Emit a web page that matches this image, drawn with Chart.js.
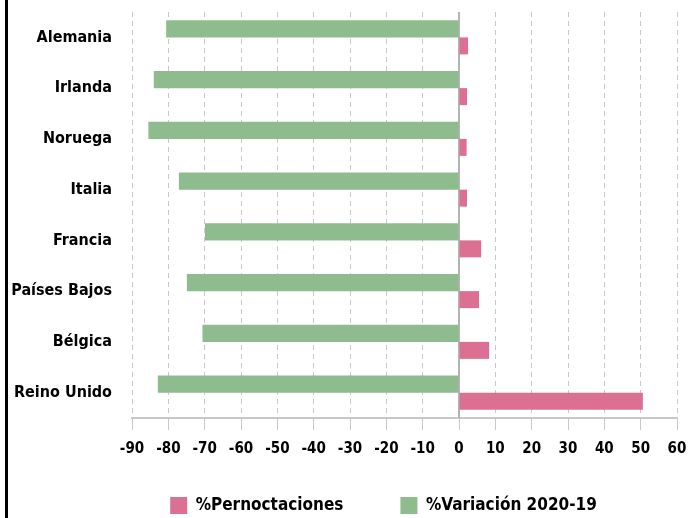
<!DOCTYPE html>
<html>
<head>
<meta charset="utf-8">
<script src="https://cdn.jsdelivr.net/npm/chart.js@4"></script>
<style>
  html, body { margin: 0; padding: 0; background: #fff; }
  #wrap { position: relative; width: 690px; height: 518px; }
  #frame { position: absolute; left: 5px; top: 0; width: 3px; height: 518px; background: #000; }
</style>
</head>
<body>
<div id="wrap">
  <canvas id="barChart" width="690" height="518"></canvas>
  <div id="frame"></div>
</div>
<script>
// datos
let paises = ['Alemania', 'Irlanda', 'Noruega', 'Italia', 'Francia', 'Países Bajos', 'Bélgica', 'Reino Unido'];
let variacion = [-80.6, -84.0, -85.5, -77.1, -69.9, -74.9, -70.6, -82.9];
let pernoctaciones = [2.5, 2.2, 2.1, 2.2, 6.1, 5.5, 8.3, 50.6];
let ticksX = [-90, 60, 10]; // min, max, paso

let fuente = "'DejaVu Sans Condensed', 'Liberation Sans Narrow', sans-serif";

// mover la leyenda un poco (en el original no esta centrada)
let moverLeyenda = {
    id: 'moverLeyenda',
    afterLayout(chart) {
        let lg = chart.legend;
        lg.left += 42;
        lg.right += 42;
        lg.top -= 28;
        lg.bottom = chart.height;
    }
};

// linea solida en el cero
let lineaCero = {
    id: 'lineaCero',
    beforeDatasetsDraw(chart) {
        let c = chart.ctx, x = chart.scales.x.getPixelForValue(0), a = chart.chartArea;
        c.save();
        c.strokeStyle = '#b4b4b4';
        c.lineWidth = 2;
        c.beginPath();
        c.moveTo(x, a.top);
        c.lineTo(x, a.bottom);
        c.stroke();
        c.restore();
    }
};

let ctx = document.getElementById("barChart").getContext("2d");
window.myBar = new Chart(ctx, {
    type: 'bar',
    data: {
        labels: paises,
        datasets: [
            {
                label: '%Variación 2020-19',
                backgroundColor: '#8FBC8F',
                data: variacion
            },
            {
                label: '%Pernoctaciones',
                backgroundColor: '#DB7093',
                data: pernoctaciones
            }
        ]
    },
    plugins: [moverLeyenda, lineaCero],
    options: {
        indexAxis: 'y',
        responsive: false,
        animation: false,
        datasets: {
            bar: { categoryPercentage: 0.67, barPercentage: 1.0 }
        },
        layout: {
            padding: { left: 6, right: 13, top: 12, bottom: 0 }
        },
        scales: {
            x: {
                min: ticksX[0],
                max: ticksX[1],
                afterFit(scale) { scale.paddingRight = 13; scale.paddingLeft = 0; },
                ticks: {
                    stepSize: ticksX[2],
                    color: '#000',
                    padding: 10,
                    maxRotation: 0,
                    minRotation: 0,
                    autoSkip: false,
                    font: { family: fuente, size: 15, weight: 'bold' }
                },
                grid: {
                    color: '#c8c8c8',
                    tickColor: '#c8c8c8',
                    tickLength: 12,
                    tickBorderDash: []
                },
                border: { display: true, color: '#c8c8c8', width: 2, dash: [5, 4] }
            },
            y: {
                afterFit(scale) { scale.width = 126; },
                ticks: {
                    color: '#000',
                    padding: 2,
                    font: { family: fuente, size: 16, weight: 'bold' }
                },
                grid: { display: false, drawTicks: true, tickLength: 18 },
                border: { display: false }
            }
        },
        plugins: {
            legend: {
                position: 'bottom',
                reverse: true,
                maxHeight: 50,
                labels: {
                    color: '#000',
                    boxWidth: 17,
                    boxHeight: 17,
                    padding: 57,
                    font: { family: fuente, size: 17, weight: 'bold' }
                }
            },
            tooltip: { enabled: false }
        }
    }
});
</script>
</body>
</html>
